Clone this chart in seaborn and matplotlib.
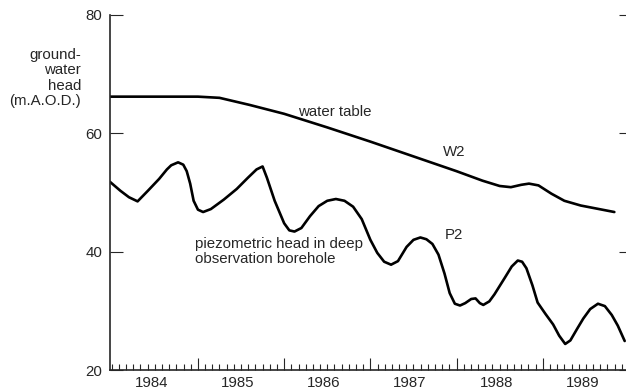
import numpy as np
import pandas as pd
import matplotlib
matplotlib.use("Agg")
import matplotlib.pyplot as plt
import seaborn as sns

# Water table, borehole W2 (decimal year, head in m A.O.D.)
w2_year = [1983.98, 1984.5, 1985.0, 1985.25, 1985.6, 1986.0, 1986.5, 1987.0,
           1987.5, 1988.0, 1988.3, 1988.5, 1988.63, 1988.75, 1988.84, 1988.95,
           1989.1, 1989.25, 1989.44, 1989.83]
w2_head = [66.2, 66.2, 66.2, 66.0, 64.8, 63.3, 61.0, 58.6,
           56.1, 53.6, 52.0, 51.1, 50.9, 51.3, 51.5, 51.2,
           49.8, 48.6, 47.8, 46.7]

# Piezometric head in deep observation borehole P2
p2_year = [1983.98, 1984.10, 1984.20, 1984.30, 1984.42, 1984.55, 1984.64, 1984.69,
           1984.77, 1984.83, 1984.87, 1984.91, 1984.95, 1985.00, 1985.06, 1985.15,
           1985.30, 1985.45, 1985.58, 1985.68, 1985.75, 1985.80, 1985.89, 1986.00,
           1986.06, 1986.12, 1986.20, 1986.30, 1986.40, 1986.50, 1986.60, 1986.70,
           1986.80, 1986.90, 1987.00, 1987.08, 1987.16, 1987.24, 1987.32, 1987.42,
           1987.50, 1987.58, 1987.65, 1987.72, 1987.79, 1987.86, 1987.92, 1987.98,
           1988.04, 1988.10, 1988.17, 1988.22, 1988.27, 1988.31, 1988.38, 1988.44,
           1988.56, 1988.64, 1988.71, 1988.76, 1988.81, 1988.88, 1988.94, 1989.03,
           1989.12, 1989.19, 1989.26, 1989.32, 1989.40, 1989.47, 1989.55, 1989.64,
           1989.72, 1989.80, 1989.87, 1989.95]
p2_head = [51.8, 50.3, 49.2, 48.5, 50.3, 52.3, 53.9, 54.6,
           55.1, 54.7, 53.6, 51.5, 48.6, 47.1, 46.7, 47.2,
           48.8, 50.6, 52.5, 53.9, 54.4, 52.5, 48.6, 44.8,
           43.6, 43.4, 44.0, 46.0, 47.7, 48.6, 48.9, 48.6,
           47.6, 45.5, 42.0, 39.8, 38.3, 37.8, 38.4, 40.8,
           42.0, 42.4, 42.1, 41.3, 39.5, 36.3, 33.0, 31.2,
           30.9, 31.3, 32.0, 32.1, 31.3, 31.0, 31.6, 32.8,
           35.6, 37.5, 38.5, 38.3, 37.2, 34.3, 31.4, 29.5,
           27.7, 25.8, 24.4, 25.0, 27.0, 28.7, 30.3, 31.2,
           30.8, 29.3, 27.5, 24.9]

years = [1984, 1985, 1986, 1987, 1988, 1989]
y_ticks = [20, 40, 60, 80]

FS = 10.8

sns.set_style("ticks")
plt.rcParams["font.family"] = ["Liberation Sans", "DejaVu Sans"]
plt.rcParams["font.size"] = FS

fig = plt.figure(figsize=(6.26, 3.91), dpi=100)
ax = fig.add_axes([110 / 626, 1 - 370 / 391, 519 / 626, 355 / 391])

w2 = pd.DataFrame({"year": w2_year, "head": w2_head})
p2 = pd.DataFrame({"year": p2_year, "head": p2_head})
sns.lineplot(data=w2, x="year", y="head", color="black", lw=1.9,
             estimator=None, sort=False, ax=ax)
sns.lineplot(data=p2, x="year", y="head", color="black", lw=1.9,
             estimator=None, sort=False, ax=ax)

ax.set_xlim(1983.98, 1990.0)
ax.set_ylim(20, 80)
ax.set_xlabel("")
ax.set_ylabel("")

for side in ("top", "right"):
    ax.spines[side].set_visible(False)
for side in ("left", "bottom"):
    ax.spines[side].set_linewidth(1.2)

# x axis: year boundaries as long inward ticks, months as short ones,
# year labels centred within each year
ax.set_xticks([y + 1 for y in years])
ax.set_xticklabels([])
ax.set_xticks(np.arange(1984, 1990.001, 1 / 12), minor=True)
ax.tick_params(axis="x", which="major", direction="in", length=9, width=0.8)
ax.tick_params(axis="x", which="minor", direction="in", length=4, width=0.8)
for y in years:
    ax.text(y + 0.46, -0.037, str(y), transform=ax.get_xaxis_transform(),
            ha="center", va="center", fontsize=FS)

# y axis
ax.set_yticks(y_ticks)
ax.set_yticklabels([str(v) for v in y_ticks])
ax.tick_params(axis="y", which="major", direction="in", length=9, width=0.8,
               pad=5.5, labelsize=FS)
ax.tick_params(axis="y", which="minor", left=False)

right = ax.secondary_yaxis("right")
right.set_yticks(y_ticks)
right.set_yticklabels([])
right.tick_params(direction="in", length=7, width=0.8)
right.spines["right"].set_visible(False)

fig.text(81 / 626, 1 - 78 / 391, "ground-\nwater\nhead\n(m.A.O.D.)",
         ha="right", va="center", fontsize=FS, linespacing=1.1)

ax.text(1986.16, 63.6, "water table", ha="left", va="center", fontsize=FS)
ax.text(1987.97, 56.9, "W2", ha="center", va="center", fontsize=FS)
ax.text(1987.97, 42.8, "P2", ha="center", va="center", fontsize=FS)
ax.text(1984.97, 40.0, "piezometric head in deep\nobservation borehole",
        ha="left", va="center", fontsize=FS, linespacing=1.1)

fig.savefig("out.png", dpi=100)
